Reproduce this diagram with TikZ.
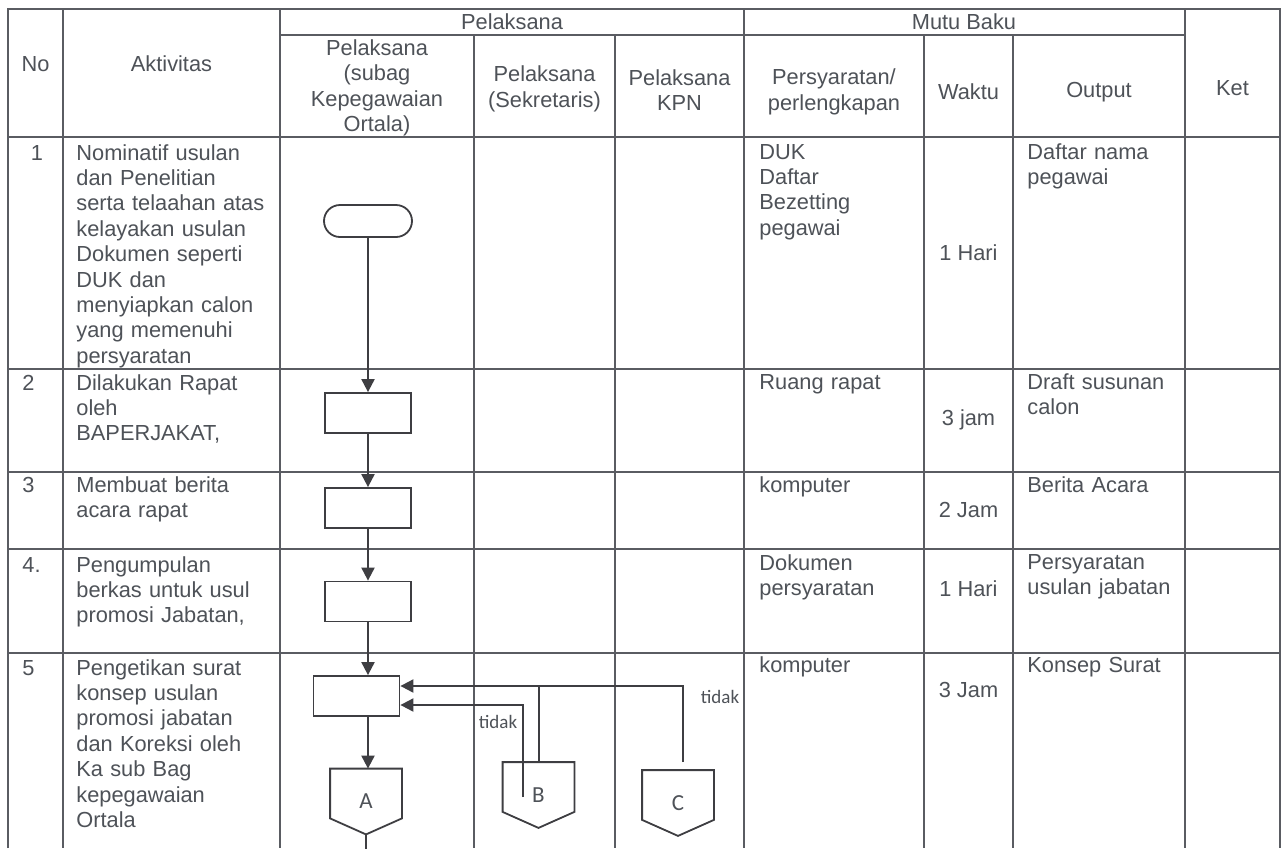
\documentclass[tikz,border=0pt]{standalone}
\usepackage{fontspec}
\setmainfont{Liberation Sans}
\newfontfamily\calfont{Carlito}
\usetikzlibrary{arrows.meta,calc}
\definecolor{tx}{RGB}{78,82,88}
\definecolor{ln}{RGB}{90,92,98}
\definecolor{fl}{RGB}{62,62,66}
\tikzset{
 txt/.style={font=\fontsize{10.9pt}{12.7pt}\selectfont, text=tx, inner sep=0pt},
 lt/.style={txt, anchor=base west, text width=110pt, align=left},
 ct/.style={txt, align=center},
 tline/.style={draw=ln, line width=0.7pt},
 fbox/.style={draw=fl, line width=0.9pt, minimum width=43pt, minimum height=20pt, inner sep=0pt},
 flow/.style={draw=fl, line width=1pt},
 arr/.style={flow, -{Triangle[length=6.5pt,width=6.5pt]}},
 lbl/.style={font=\calfont\fontsize{9.5pt}{11pt}\selectfont, text=tx, inner sep=0pt},
 opc/.style={minimum width=35.5pt, minimum height=32.5pt, inner sep=0pt, font=\calfont\fontsize{11.5pt}{13pt}\selectfont, text=tx},
 opshape/.style={draw=fl, line width=0.9pt},
}
\begin{document}
\begin{tikzpicture}[x=0.5pt,y=-0.5pt]
\useasboundingbox (0,0) rectangle (1282,848);
\fill[white] (0,0) rectangle (1282,848);
% table grid
\draw[tline] (8,848) -- (8,9) -- (1280,9) -- (1280,848);
\foreach \x in {63,280,744,1185} \draw[tline] (\x,9) -- (\x,848);
\foreach \x in {474,615,924,1013} \draw[tline] (\x,35) -- (\x,848);
\draw[tline] (280,35) -- (1185,35);
\foreach \y in {137,369,472,549,653} \draw[tline] (8,\y) -- (1280,\y);
% header
\node[ct] (hP) at (512,22) {Pelaksana};
\node[ct] (hM) at (964,22) {Mutu Baku};
\node[ct] (hNo) at (35.5,64) {No};
\node[ct] (hAkt) at (171.5,64) {Aktivitas};
\node[ct] (hP1) at (377,88) {Pelaksana\\(subag\\Kepegawaian\\Ortala)};
\node[ct] (hP2) at (544.5,89) {Pelaksana\\(Sekretaris)};
\node[ct] (hP3) at (679.5,90) {Pelaksana\\KPN};
\node[ct] (hPer) at (834,92) {Persyaratan/\\perlengkapan};
\node[ct] (hW) at (968.5,92) {Waktu};
\node[ct] (hO) at (1099,92) {Output};
\node[ct] (hK) at (1232.5,88) {Ket};
% numbers
\node[txt,anchor=base] (r1) at (37,160) {1};
\node[lt] (r2) at (22,390) {2};
\node[lt] (r3) at (22,492) {3};
\node[lt] (r4) at (22,572) {4.};
\node[lt] (r5) at (22,675) {5};
% aktivitas
\node[lt] (a1) at (76,160) {Nominatif usulan\\dan Penelitian\\serta telaahan atas\\kelayakan usulan\\Dokumen seperti\\DUK dan\\menyiapkan calon\\yang memenuhi\\persyaratan};
\node[lt] (a2) at (76,390) {Dilakukan Rapat\\oleh\\BAPERJAKAT,};
\node[lt] (a3) at (76,492) {Membuat berita\\acara rapat};
\node[lt] (a4) at (76,572) {Pengumpulan\\berkas untuk usul\\promosi Jabatan,};
\node[lt] (a5) at (76,675) {Pengetikan surat\\konsep usulan\\promosi jabatan\\dan Koreksi oleh\\Ka sub Bag\\kepegawaian\\Ortala};
% persyaratan
\node[lt] (p1) at (759,159) {DUK\\Daftar\\Bezetting\\pegawai};
\node[lt] (p2) at (759,389) {Ruang rapat};
\node[lt] (p3) at (759,492) {komputer};
\node[lt] (p4) at (759,570) {Dokumen\\persyaratan};
\node[lt] (p5) at (759,672) {komputer};
% waktu
\node[ct] (w1) at (968.5,253) {1 Hari};
\node[ct] (w2) at (968.5,420) {3 jam};
\node[ct] (w3) at (968.5,510) {2 Jam};
\node[ct] (w4) at (968.5,589) {1 Hari};
\node[ct] (w5) at (968.5,690) {3 Jam};
% output
\node[lt] (o1) at (1027,159) {Daftar nama\\pegawai};
\node[lt] (o2) at (1027,389) {Draft susunan\\calon};
\node[lt] (o3) at (1027,492) {Berita Acara};
\node[lt] (o4) at (1027,569) {Persyaratan\\usulan jabatan};
\node[lt] (o5) at (1027,672) {Konsep Surat};
% flowchart
\node[fbox, minimum width=44pt, minimum height=16pt, rounded corners=8pt] (t) at (368,221) {};
\node[fbox] (b2) at (368,413) {};
\node[fbox] (b3) at (368,508) {};
\node[fbox] (b4) at (368,601.5) {};
\node[fbox] (b5) at (356.5,696) {};
\node[opc] (A) at (366,801.5) {A};
\node[opc] (B) at (538.5,795) {B};
\node[opc] (C) at (678,803) {C};
\foreach \n in {A,B,C}
  \draw[opshape] (\n.north west) -- (\n.north east) -- ($(\n.south east)+(0,-16)$) -- (\n.south) -- ($(\n.south west)+(0,-16)$) -- cycle;
\draw[arr] (t.south) -- (b2.north);
\draw[arr] (b2.south) -- (b3.north);
\draw[arr] (b3.south) -- (b4.north);
\draw[arr] (b4.south) -- (b4.south |- b5.north);
\draw[arr] (b4.south |- b5.south) -- (b4.south |- A.north);
\draw[flow] (A.south) -- ++(0,16);
\coordinate (up) at ([yshift=5pt]b5.east);
\coordinate (lo) at ([yshift=-4.5pt]b5.east);
\draw[arr] ($(C.north)+(5,-8)$) |- (up);
\draw[flow] (B.north) -- (B.north |- up);
\draw[arr] ($(B.center)+(-15.5,2)$) |- (lo);
\node[lbl] (tdk1) at (720,697) {tidak};
\node[lbl] (tdk2) at (498,722) {tidak};
\end{tikzpicture}
\end{document}
